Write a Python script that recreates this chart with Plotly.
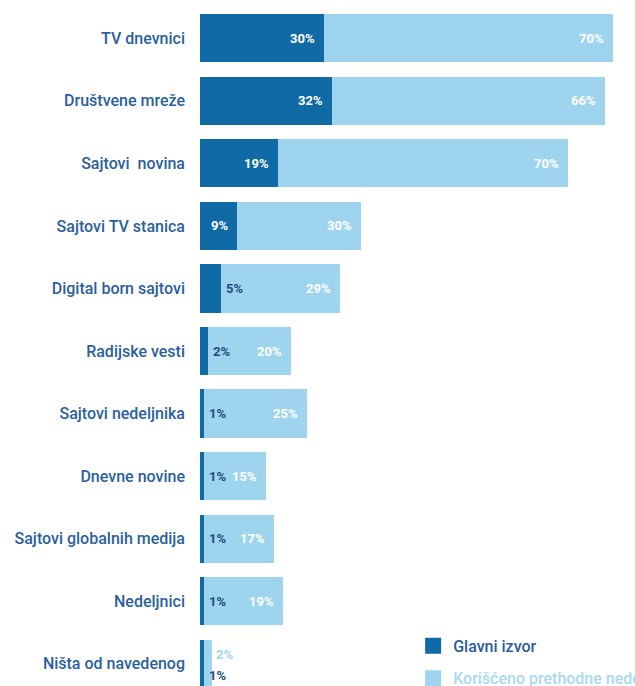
import plotly.graph_objects as go

# Izvori vesti: glavni izvor i ostali izvori korišćeni prethodne nedelje (%)
categories = [
    "TV dnevnici",
    "Društvene mreže",
    "Sajtovi  novina",
    "Sajtovi TV stanica",
    "Digital born sajtovi",
    "Radijske vesti",
    "Sajtovi nedeljnika",
    "Dnevne novine",
    "Sajtovi globalnih medija",
    "Nedeljnici",
    "Ništa od navedenog",
]
main_source = [30, 32, 19, 9, 5, 2, 1, 1, 1, 1, 1]
also_used = [70, 66, 70, 30, 29, 20, 25, 15, 17, 19, 2]

series_names = ["Glavni izvor", "Korišćeno prethodne nedelje"]

DARK = "#0f6aa5"
LIGHT = "#9fd4ef"
LABEL = "#2b5f9e"
FONT = "Roboto, Liberation Sans, sans-serif"

fig = go.Figure()
fig.add_trace(go.Bar(
    y=categories, x=main_source, orientation="h", name=series_names[0],
    marker=dict(color=DARK, line=dict(width=0)), showlegend=False,
))
fig.add_trace(go.Bar(
    y=categories, x=also_used, orientation="h", name=series_names[1],
    marker=dict(color=LIGHT, line=dict(width=0)), showlegend=False,
))

# Legend entries (one legend per series so each text gets its own colour)
fig.add_trace(go.Scatter(
    x=[None], y=[None], mode="markers", name=series_names[0],
    marker=dict(symbol="square", size=16, color=DARK), legend="legend",
))
fig.add_trace(go.Scatter(
    x=[None], y=[None], mode="markers", name=series_names[1],
    marker=dict(symbol="square", size=16, color=LIGHT), legend="legend2",
))

# Value labels at the segment ends
annotations = []
for cat, m, a in zip(categories, main_source, also_used):
    big_main = m >= 9
    annotations.append(dict(
        x=m, y=cat, xref="x", yref="y", text=f"{m}%", showarrow=False,
        xanchor="right" if big_main else "left",
        xshift=-7 if big_main else 3,
        yshift=0 if a >= 5 else -12,
        font=dict(family=FONT, size=13, weight=700,
                  color="white" if big_main else "#1b4f80"),
    ))
    big_also = a >= 5
    annotations.append(dict(
        x=m + a, y=cat, xref="x", yref="y", text=f"{a}%", showarrow=False,
        xanchor="right" if big_also else "left",
        xshift=-7 if big_also else 2,
        yshift=0 if big_also else 9,
        font=dict(family=FONT, size=13, weight=700,
                  color="white" if big_also else LIGHT),
    ))

fig.update_layout(
    width=635, height=695,
    margin=dict(l=200, r=0, t=7, b=0, autoexpand=False),
    barmode="stack", bargap=0.23,
    plot_bgcolor="white", paper_bgcolor="white",
    font=dict(family=FONT, color=LABEL),
    xaxis=dict(range=[0, 105.3], visible=False, fixedrange=True),
    yaxis=dict(
        autorange="reversed", showgrid=False, zeroline=False, showline=False,
        ticks="", ticklabelstandoff=14,
        tickfont=dict(family=FONT, size=16, weight=500, color=LABEL),
    ),
    annotations=annotations,
    legend=dict(
        x=0.49, y=0.096, xanchor="left", yanchor="top",
        bgcolor="rgba(0,0,0,0)", itemwidth=30,
        font=dict(family=FONT, size=16, weight=500, color="#2a5c98"),
    ),
    legend2=dict(
        x=0.49, y=0.049, xanchor="left", yanchor="top",
        bgcolor="rgba(0,0,0,0)", itemwidth=30,
        font=dict(family=FONT, size=16, weight=500, color="#a9d9f1"),
    ),
)

fig.write_html("out.html", config={"displayModeBar": False})
